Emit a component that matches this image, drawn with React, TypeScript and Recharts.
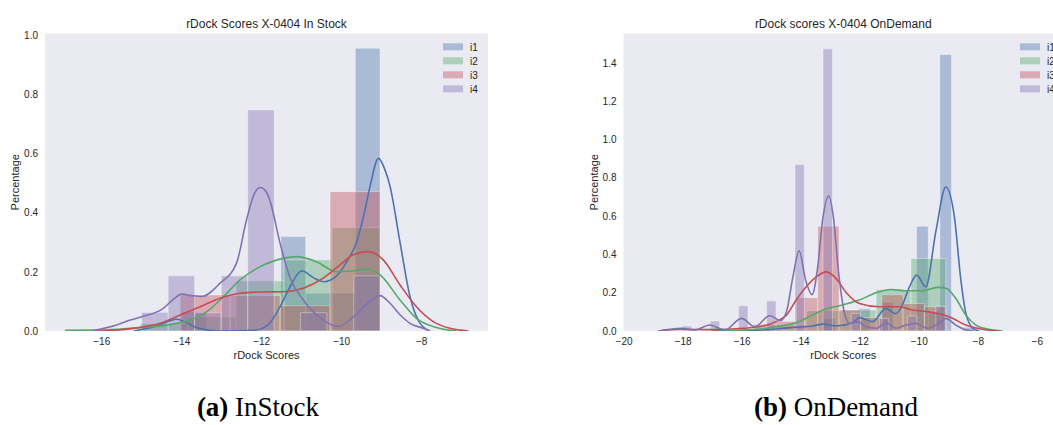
import React from 'react';
import { ComposedChart, XAxis, YAxis, Line, ReferenceArea, CartesianGrid } from 'recharts';

const SERIES_NAMES = ['i1', 'i2', 'i3', 'i4'];
const SERIES_COLORS = ['#4C72B0', '#55A868', '#C44E52', '#8172B2'];

// ---------- Panel (a): In Stock ----------
const IS_TITLE = 'rDock Scores X-0404 In Stock';
const IS_X_TICKS = [-16, -14, -12, -10, -8];
const IS_Y_TICKS = [0, 0.2, 0.4, 0.6, 0.8, 1.0];

// histogram bins: left edges, bin width, densities
const IS_I1_LO = [-14.0, -11.52, -10.9, -10.28, -9.66];
const IS_I1_W = 0.62;
const IS_I1_H = [0.065, 0.32, 0.128, 0.128, 0.958];

const IS_I2_LO = [-15.04, -13.84, -12.64, -11.44, -10.24];
const IS_I2_W = 1.2;
const IS_I2_H = [0.025, 0.048, 0.17, 0.241, 0.35];

const IS_I3_LO = [-14.04, -12.79, -11.54, -10.29];
const IS_I3_W = 1.25;
const IS_I3_H = [0.122, 0.12, 0.086, 0.472];

const IS_I4_LO = [-15.0, -14.34, -13.68, -13.01, -12.35, -11.03, -9.7];
const IS_I4_W = 0.662;
const IS_I4_H = [0.063, 0.187, 0.062, 0.187, 0.749, 0.062, 0.187];

// KDE curves
const IS_I1_KX = [-15.2, -14.6, -14.13, -13.6, -13.1, -12.2, -11.85, -11.55, -11.29, -11.0, -10.7, -10.45, -10.13, -9.85, -9.63, -9.45, -9.29, -9.08, -8.9, -8.79, -8.54, -8.29, -8.04, -7.79];
const IS_I1_KY = [0, 0.018, 0.04, 0.01, 0, 0.002, 0.02, 0.08, 0.15, 0.204, 0.18, 0.167, 0.186, 0.24, 0.3, 0.39, 0.49, 0.585, 0.54, 0.49, 0.3, 0.116, 0.026, 0];

const IS_I2_KX = [-16.92, -16.04, -15.21, -14.38, -13.79, -13.38, -12.96, -12.54, -12.04, -11.46, -11.13, -10.63, -10.13, -9.71, -9.38, -9.04, -8.54, -8.13, -7.63, -7.13];
const IS_I2_KY = [0.002, 0.003, 0.01, 0.02, 0.037, 0.065, 0.116, 0.173, 0.218, 0.246, 0.252, 0.235, 0.201, 0.204, 0.209, 0.19, 0.105, 0.043, 0.012, 0];

const IS_I3_KX = [-16.04, -15.21, -14.54, -14.04, -13.54, -13.04, -12.54, -12.04, -11.46, -10.96, -10.46, -10.04, -9.71, -9.33, -8.96, -8.54, -8.13, -7.71, -7.29, -6.83];
const IS_I3_KY = [0, 0.009, 0.026, 0.054, 0.082, 0.111, 0.128, 0.132, 0.133, 0.145, 0.179, 0.224, 0.258, 0.269, 0.241, 0.156, 0.082, 0.032, 0.009, 0];

const IS_I4_KX = [-16.25, -15.63, -15.29, -15.0, -14.46, -14.21, -14.0, -13.75, -13.5, -13.04, -12.63, -12.38, -12.2, -12.04, -11.88, -11.79, -11.54, -11.29, -10.96, -10.54, -10.08, -9.71, -9.3, -9.04, -8.79, -8.54, -8.29, -7.96, -7.79];
const IS_I4_KY = [0, 0.02, 0.037, 0.048, 0.077, 0.107, 0.125, 0.12, 0.117, 0.162, 0.23, 0.376, 0.46, 0.486, 0.47, 0.44, 0.297, 0.18, 0.105, 0.045, 0.015, 0.048, 0.1, 0.12, 0.094, 0.055, 0.026, 0.009, 0];

// ---------- Panel (b): OnDemand ----------
const OD_TITLE = 'rDock scores X-0404 OnDemand';
const OD_X_TICKS = [-20, -18, -16, -14, -12, -10, -8, -6];
const OD_Y_TICKS = [0, 0.2, 0.4, 0.6, 0.8, 1.0, 1.2, 1.4];

const OD_I1_LO = [-13.24, -12.06, -11.27, -10.09, -9.69, -9.3, -8.51];
const OD_I1_W = 0.394;
const OD_I1_H = [0.066, 0.118, 0.15, 0.548, 0.1, 1.445, 0.019];

const OD_I2_LO = [-16.18, -15.0, -13.82, -12.64, -11.46, -10.28];
const OD_I2_W = 1.18;
const OD_I2_H = [0.01, 0.03, 0.105, 0.11, 0.217, 0.379];

const OD_I3_LO = [-15.61, -14.88, -14.16, -13.44, -12.72, -11.99, -11.27, -10.55, -9.82];
const OD_I3_W = 0.723;
const OD_I3_H = [0.035, 0.05, 0.174, 0.548, 0.11, 0.07, 0.19, 0.144, 0.127];

const OD_I4_LO = [-18.03, -17.08, -16.12, -15.17, -14.21, -13.26, -12.31, -11.35, -10.4, -9.44];
const OD_I4_W = 0.318;
const OD_I4_H = [0.026, 0.052, 0.132, 0.158, 0.87, 1.475, 0.092, 0.066, 0.078, 0.13];

const OD_I1_KX = [-16.98, -15.29, -14.28, -13.61, -13.26, -12.82, -12.25, -12.03, -11.58, -11.13, -10.79, -10.62, -10.33, -10.09, -9.78, -9.43, -9.1, -8.81, -8.59, -8.42, -8.2, -7.97];
const OD_I1_KY = [0, 0.005, 0.019, 0.026, 0.036, 0.026, 0.043, 0.07, 0.049, 0.118, 0.09, 0.12, 0.231, 0.292, 0.231, 0.527, 0.753, 0.596, 0.266, 0.092, 0.017, 0];

const OD_I2_KX = [-16.98, -15.97, -15.29, -14.62, -14.17, -13.72, -13.26, -12.6, -12.03, -11.46, -10.95, -10.45, -9.89, -9.38, -9.1, -8.76, -8.42, -8.08, -7.64, -7.18];
const OD_I2_KY = [0, 0.005, 0.012, 0.028, 0.043, 0.075, 0.11, 0.136, 0.162, 0.2, 0.217, 0.21, 0.21, 0.228, 0.223, 0.17, 0.083, 0.031, 0.009, 0];

const OD_I3_KX = [-18.84, -18.0, -16.98, -15.97, -15.29, -14.85, -14.5, -14.17, -13.83, -13.49, -13.15, -12.82, -12.47, -12.03, -11.35, -10.68, -10.22, -9.67, -9.32, -8.99, -8.42, -7.86, -7.29];
const OD_I3_KY = [0, 0.009, 0.007, 0.014, 0.026, 0.049, 0.083, 0.162, 0.231, 0.283, 0.309, 0.275, 0.2, 0.144, 0.127, 0.127, 0.11, 0.1, 0.09, 0.075, 0.031, 0.009, 0];

const OD_I4_KX = [-18.84, -18.05, -17.6, -17.1, -16.59, -16.02, -15.57, -15.07, -14.7, -14.5, -14.28, -14.07, -13.85, -13.63, -13.44, -13.26, -13.07, -12.91, -12.73, -12.53, -12.36, -12.09, -11.8, -11.46, -11.12, -10.79, -10.45, -10.11, -9.72, -9.35, -9.1, -8.76, -8.42, -8.15];
const OD_I4_KY = [0, 0.014, 0.005, 0.031, 0.005, 0.066, 0.022, 0.08, 0.054, 0.1, 0.283, 0.419, 0.266, 0.19, 0.335, 0.596, 0.706, 0.596, 0.301, 0.092, 0.04, 0.049, 0.022, 0.014, 0.043, 0.014, 0.031, 0.04, 0.014, 0.04, 0.066, 0.031, 0.005, 0];

const SANS = "'Liberation Sans', Arial, Helvetica, sans-serif";
const SERIF = "'Liberation Serif', 'Times New Roman', serif";
const TEXT = '#262626';

type Hist = { lo: number[]; w: number; h: number[] };
type Kde = { x: number[]; y: number[] };

const zipKde = (k: Kde) => k.x.map((x, i) => ({ x, y: k.y[i] }));
const minusFmt = (v: number) => String(v).replace('-', '\u2212');

interface PanelCfg {
  title: string;
  width: number;
  yAxisWidth: number;
  xDomain: [number, number];
  yDomain: [number, number];
  xTicks: number[];
  yTicks: number[];
  hists: Hist[];
  kdes: Kde[];
  legendX: number;
}

const PANEL_A: PanelCfg = {
  title: IS_TITLE,
  width: 500,
  yAxisWidth: 45,
  xDomain: [-17.42, -6.34],
  yDomain: [0, 1.008],
  xTicks: IS_X_TICKS,
  yTicks: IS_Y_TICKS,
  hists: [
    { lo: IS_I1_LO, w: IS_I1_W, h: IS_I1_H },
    { lo: IS_I2_LO, w: IS_I2_W, h: IS_I2_H },
    { lo: IS_I3_LO, w: IS_I3_W, h: IS_I3_H },
    { lo: IS_I4_LO, w: IS_I4_W, h: IS_I4_H },
  ],
  kdes: [
    { x: IS_I1_KX, y: IS_I1_KY },
    { x: IS_I2_KX, y: IS_I2_KY },
    { x: IS_I3_KX, y: IS_I3_KY },
    { x: IS_I4_KX, y: IS_I4_KY },
  ],
  legendX: 443,
};

const PANEL_B: PanelCfg = {
  title: OD_TITLE,
  width: 545,
  yAxisWidth: 93.5,
  xDomain: [-20.02, -5.13],
  yDomain: [0, 1.555],
  xTicks: OD_X_TICKS,
  yTicks: OD_Y_TICKS,
  hists: [
    { lo: OD_I1_LO, w: OD_I1_W, h: OD_I1_H },
    { lo: OD_I2_LO, w: OD_I2_W, h: OD_I2_H },
    { lo: OD_I3_LO, w: OD_I3_W, h: OD_I3_H },
    { lo: OD_I4_LO, w: OD_I4_W, h: OD_I4_H },
  ],
  kdes: [
    { x: OD_I1_KX, y: OD_I1_KY },
    { x: OD_I2_KX, y: OD_I2_KY },
    { x: OD_I3_KX, y: OD_I3_KY },
    { x: OD_I4_KX, y: OD_I4_KY },
  ],
  legendX: 490,
};

const CHART_H = 365;
const PLOT_TOP = 33.5;
const PLOT_BOTTOM = 331;

function Panel({ cfg }: { cfg: PanelCfg }) {
  const plotLeft = cfg.yAxisWidth;
  const plotRight = cfg.width - 12;
  const cx = (plotLeft + plotRight) / 2;
  const cy = (PLOT_TOP + PLOT_BOTTOM) / 2;
  return (
    <ComposedChart
      width={cfg.width}
      height={CHART_H}
      margin={{ top: PLOT_TOP, right: 12, bottom: CHART_H - PLOT_BOTTOM - 29, left: 0 }}
    >
      <CartesianGrid fill="#EAEAF2" stroke="none" horizontal={false} vertical={false} />
      <XAxis
        dataKey="x"
        type="number"
        domain={cfg.xDomain}
        ticks={cfg.xTicks}
        allowDataOverflow
        interval={0}
        height={29}
        axisLine={false}
        tickLine={false}
        tickSize={5}
        tickMargin={2}
        tick={{ fontSize: 10, fill: TEXT, fontFamily: SANS }}
        tickFormatter={minusFmt}
      />
      <YAxis
        type="number"
        domain={cfg.yDomain}
        ticks={cfg.yTicks}
        allowDataOverflow
        interval={0}
        width={cfg.yAxisWidth}
        axisLine={false}
        tickLine={false}
        tickSize={5}
        tickMargin={2}
        tick={{ fontSize: 10, fill: TEXT, fontFamily: SANS }}
        tickFormatter={(v: number) => v.toFixed(1)}
      />
      {cfg.hists.map((hs, si) =>
        hs.lo.map((lo, bi) => (
          <ReferenceArea
            key={`h${si}-${bi}`}
            x1={lo}
            x2={lo + hs.w}
            y1={0}
            y2={hs.h[bi]}
            fill={SERIES_COLORS[si]}
            fillOpacity={0.4}
            stroke="#ffffff"
            strokeOpacity={0.35}
            strokeWidth={1}
            ifOverflow="hidden"
          />
        ))
      )}
      {cfg.kdes.map((k, si) => (
        <Line
          key={`k${si}`}
          data={zipKde(k)}
          dataKey="y"
          name={SERIES_NAMES[si]}
          type="monotone"
          stroke={SERIES_COLORS[si]}
          strokeWidth={1.6}
          dot={false}
          activeDot={false}
          isAnimationActive={false}
        />
      ))}
      <text x={cx} y={28.3} textAnchor="middle" fontSize={12} fill={TEXT} fontFamily={SANS}>
        {cfg.title}
      </text>
      <text x={cx} y={359} textAnchor="middle" fontSize={11} fill={TEXT} fontFamily={SANS}>
        rDock Scores
      </text>
      <text
        x={plotLeft - 30}
        y={cy}
        textAnchor="middle"
        dominantBaseline="central"
        fontSize={11}
        fill={TEXT}
        fontFamily={SANS}
        transform={`rotate(-90, ${plotLeft - 30}, ${cy})`}
      >
        Percentage
      </text>
      {SERIES_NAMES.map((n, i) => (
        <g key={`lg${i}`}>
          <rect x={cfg.legendX} y={43.3 + i * 14} width={20} height={7} fill={SERIES_COLORS[i]} fillOpacity={0.4} />
          <text x={cfg.legendX + 27} y={50.5 + i * 14} fontSize={10} fill={TEXT} fontFamily={SANS}>
            {n}
          </text>
        </g>
      ))}
    </ComposedChart>
  );
}

export default function App() {
  return (
    <div
      style={{
        position: 'absolute',
        left: 0,
        top: 0,
        width: 1053,
        height: 425,
        overflow: 'hidden',
        background: '#ffffff',
      }}
    >
      <div style={{ position: 'absolute', left: 0, top: 0 }}>
        <Panel cfg={PANEL_A} />
      </div>
      <div style={{ position: 'absolute', left: 530, top: 0 }}>
        <Panel cfg={PANEL_B} />
      </div>
      <svg width={1053} height={60} style={{ position: 'absolute', left: 0, top: 365 }}>
        <text x={258} y={51} textAnchor="middle" fontSize={27} fill="#000" fontFamily={SERIF}>
          <tspan fontWeight="bold">(a)</tspan> InStock
        </text>
        <text x={836} y={51} textAnchor="middle" fontSize={27} fill="#000" fontFamily={SERIF}>
          <tspan fontWeight="bold">(b)</tspan> OnDemand
        </text>
      </svg>
    </div>
  );
}
